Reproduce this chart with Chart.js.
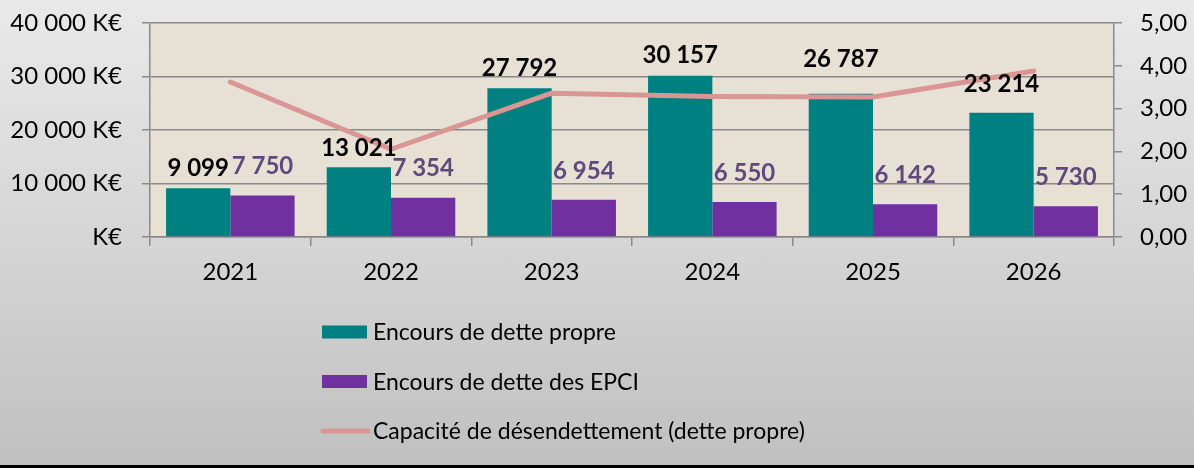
<!DOCTYPE html>
<html lang="fr">
<head>
<meta charset="utf-8">
<title>Encours de dette</title>
<script src="https://cdn.jsdelivr.net/npm/chart.js@4.4.1/dist/chart.umd.min.js"></script>
<style>
  html, body { margin: 0; padding: 0; }
  body { width: 1194px; height: 468px; overflow: hidden; }
  #wrap {
    width: 1194px; height: 465px;
    background: linear-gradient(to bottom, #e9e9e9 0%, #d4d4d4 55%, #c0c0c0 100%);
    border-bottom: 3px solid #000;
  }
  canvas { display: block; }
</style>
</head>
<body>
<div id="wrap"><canvas id="debtChart" width="1194" height="465"></canvas></div>
<script>
// chart data
const years = ['2021', '2022', '2023', '2024', '2025', '2026'];
const detteSeries = [9099, 13021, 27792, 30157, 26787, 23214];
const epciSeries = [7750, 7354, 6954, 6550, 6142, 5730];
const capaciteSeries = [3.62, 2.05, 3.36, 3.28, 3.27, 3.88];

const seriesNames = [
  'Encours de dette propre',
  'Encours de dette des EPCI',
  'Capacité de désendettement (dette propre)'
];

const FONT = 'Lato, "Noto Sans", sans-serif';

function formatKE(v) {
  if (v === 0) return 'K€';
  return String(v).replace(/\B(?=(\d{3})+(?!\d))/g, ' ') + ' K€';
}

function formatNum(v) {
  return String(v).replace(/\B(?=(\d{3})+(?!\d))/g, ' ');
}

// keep the tick padding from pushing the plot area down
function noVerticalPadding(scale) {
  scale.paddingTop = 0;
  scale.paddingBottom = 0;
}

// beige plot background
const plotBackground = {
  id: 'plotBackground',
  beforeDraw(chart) {
    const {ctx, chartArea: a} = chart;
    ctx.save();
    ctx.fillStyle = '#e7e0d5';
    ctx.fillRect(a.left, a.top, a.right - a.left, a.bottom - a.top);
    ctx.restore();
  }
};

// value labels above the bars
const barValues = {
  id: 'barValues',
  afterDatasetsDraw(chart, args, opts) {
    const ctx = chart.ctx;
    ctx.save();
    ctx.font = 'bold 24px ' + FONT;
    ctx.textAlign = 'center';
    ctx.textBaseline = 'middle';
    chart.data.datasets.forEach((ds, di) => {
      if (ds.type !== 'bar') return;
      const meta = chart.getDatasetMeta(di);
      const lift = opts.lift[di];
      meta.data.forEach((bar, i) => {
        const dy = Array.isArray(lift) ? lift[i] : lift;
        ctx.fillStyle = ds.labelColor;
        ctx.fillText(formatNum(ds.data[i]), bar.x, bar.y - dy);
      });
    });
    ctx.restore();
  }
};

// vertical legend under the chart
const stackedLegend = {
  id: 'stackedLegend',
  afterDraw(chart, args, opts) {
    const ctx = chart.ctx;
    ctx.save();
    ctx.font = '23px ' + FONT;
    ctx.textBaseline = 'middle';
    ctx.textAlign = 'left';
    chart.data.datasets.forEach((ds, i) => {
      const y = opts.top + i * opts.rowGap;
      if (ds.type === 'line') {
        ctx.strokeStyle = ds.borderColor;
        ctx.lineWidth = 5;
        ctx.lineCap = 'round';
        ctx.beginPath();
        ctx.moveTo(opts.left + 1, y);
        ctx.lineTo(opts.left + 46, y);
        ctx.stroke();
      } else {
        ctx.fillStyle = ds.backgroundColor;
        ctx.fillRect(opts.left, y - 6.5, 45, 13);
      }
      ctx.fillStyle = '#000';
      ctx.fillText(ds.label, opts.left + 51, y + 1);
    });
    ctx.restore();
  }
};

const ctx = document.getElementById('debtChart').getContext('2d');
new Chart(ctx, {
  data: {
    labels: years,
    datasets: [
      {
        type: 'bar',
        label: seriesNames[0],
        data: detteSeries,
        backgroundColor: '#008080',
        labelColor: '#000000',
        yAxisID: 'y',
        order: 2,
        categoryPercentage: 0.8,
        barPercentage: 1.0
      },
      {
        type: 'bar',
        label: seriesNames[1],
        data: epciSeries,
        backgroundColor: '#7030a0',
        labelColor: '#604a7b',
        yAxisID: 'y',
        order: 2,
        categoryPercentage: 0.8,
        barPercentage: 1.0
      },
      {
        type: 'line',
        label: seriesNames[2],
        data: capaciteSeries,
        borderColor: '#d99694',
        borderWidth: 5,
        pointRadius: 0,
        tension: 0,
        borderCapStyle: 'round',
        borderJoinStyle: 'round',
        yAxisID: 'y1',
        order: 1
      }
    ]
  },
  options: {
    responsive: false,
    animation: false,
    layout: { padding: { top: 23, left: 0, right: 0, bottom: 178 } },
    plugins: {
      legend: { display: false },
      tooltip: { enabled: false },
      barValues: { lift: [[20, 19, 20, 20, 34, 29], 29] },
      stackedLegend: { left: 322, top: 332, rowGap: 49.5 }
    },
    scales: {
      x: {
        offset: true,
        grid: {
          offset: true,
          drawOnChartArea: false,
          drawTicks: true,
          tickLength: 9,
          color: '#8a8a8a',
          lineWidth: 1.5
        },
        border: { color: '#8a8a8a', width: 1.5 },
        ticks: { color: '#000', font: { family: FONT, size: 24 }, padding: 12 },
        afterFit(scale) { scale.height = 50; }
      },
      y: {
        position: 'left',
        min: 0,
        max: 40000,
        ticks: {
          stepSize: 10000,
          color: '#000',
          font: { family: FONT, size: 24 },
          padding: 20,
          callback: (v) => formatKE(v)
        },
        grid: { color: '#8a8a8a', lineWidth: 1.5, tickLength: 8 },
        border: { color: '#8a8a8a', width: 1.5 },
        afterFit(scale) { scale.width = 150; noVerticalPadding(scale); }
      },
      y1: {
        position: 'right',
        min: 0,
        max: 5,
        ticks: {
          stepSize: 1,
          color: '#000',
          font: { family: FONT, size: 24 },
          padding: 18,
          callback: (v) => v.toFixed(2).replace('.', ',')
        },
        grid: { drawOnChartArea: false, color: '#8a8a8a', lineWidth: 1.5, tickLength: 8 },
        border: { color: '#8a8a8a', width: 1.5 },
        afterFit(scale) { scale.width = 80; noVerticalPadding(scale); }
      }
    }
  },
  plugins: [plotBackground, barValues, stackedLegend]
});
</script>
</body>
</html>
